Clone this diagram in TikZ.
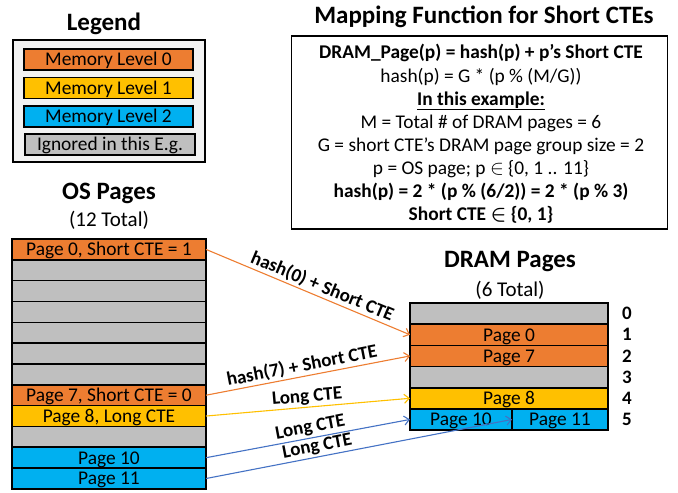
\documentclass[tikz,border=0pt]{standalone}
\usepackage{fontspec}
\setmainfont{Carlito}
\usetikzlibrary{arrows.meta}
\usetikzlibrary{positioning}

\definecolor{lvlzero}{HTML}{ED7D31}
\definecolor{lvlone}{HTML}{FFC000}
\definecolor{lvltwo}{HTML}{00B0F0}
\definecolor{ignored}{HTML}{BFBFBF}
\definecolor{legendbg}{HTML}{F2F2F2}
\definecolor{bluearrow}{HTML}{4472C4}

\tikzstyle{page} = [rectangle, draw=black, line width=1.6pt, inner sep=0pt, outer sep=0pt, text height=16pt, text depth=3.4pt, font=\fontsize{19.4}{22}\selectfont]
\tikzstyle{ospage} = [page, fill=ignored, minimum width=194pt, minimum height=20.83pt]
\tikzstyle{drampage} = [page, fill=ignored, minimum width=198pt, minimum height=21.17pt]
\tikzstyle{legenditem} = [page, minimum width=169pt, minimum height=21pt]
\tikzstyle{title} = [font=\fontsize{25}{28}\selectfont\bfseries]
\tikzstyle{subtitle} = [font=\fontsize{21}{24}\selectfont]
\tikzstyle{rownum} = [font=\fontsize{19}{22}\selectfont\bfseries, inner sep=0pt]
\tikzstyle{link} = [line width=1.1pt, -{Straight Barb[length=5pt,width=9pt]}]
\tikzstyle{linklabel} = [font=\fontsize{19}{22}\selectfont\bfseries, sloped, above, inner sep=1.5pt]

\begin{document}
\begin{tikzpicture}[x=1pt, y=-1pt]
\useasboundingbox (0,0) rectangle (678,493);

% legend
\node (legendtitle) [title] at (104,24) {Legend};
\node (legendbox) [rectangle, draw=black, line width=1.2pt, fill=legendbg, minimum width=192pt, minimum height=122pt] at (109,101) {};
\node (lvl0) [legenditem, fill=lvlzero] at (108.5,59.5) {Memory Level 0};
\node (lvl1) [legenditem, fill=lvlone, below=7.5pt of lvl0] {Memory Level 1};
\node (lvl2) [legenditem, fill=lvltwo, below=7.5pt of lvl1] {Memory Level 2};
\node (lvlx) [legenditem, fill=ignored, minimum width=170pt, below=7pt of lvl2, xshift=1.5pt] {Ignored in this E.g.};

% mapping function
\node (maptitle) [title] at (484,17) {Mapping Function for Short CTEs};
\node (mapbox) [rectangle, draw=black, line width=1.6pt, minimum width=376pt, minimum height=193pt] at (479.5,132.5) {};
\node (maptext) [align=center, font=\fontsize{19.4}{23.1}\selectfont] at (481,134) {
  \textbf{DRAM\_Page(p) = hash(p) + p’s Short CTE}\\
  hash(p) = G * (p \% (M/G))\\
  \underline{\textbf{In this example:}}\\
  M = Total \# of DRAM pages = 6\\
  G = short CTE’s DRAM page group size = 2\\
  p = OS page; p $\in$ \{0, 1 .. 11\}\\
  \textbf{hash(p) = 2 * (p \% (6/2)) = 2 * (p \% 3)}\\
  \textbf{Short CTE {\boldmath$\in$} \{0, 1\}}};

% OS pages
\node (ostitle) [title] at (109,193) {OS Pages};
\node (ostotal) [subtitle] at (109,220) {(12 Total)};
\node (os0) [ospage, fill=lvlzero] at (109,249.4) {Page 0, Short CTE = 1};
\node (os1) [ospage, below=0pt of os0] {};
\node (os2) [ospage, below=0pt of os1] {};
\node (os3) [ospage, below=0pt of os2] {};
\node (os4) [ospage, below=0pt of os3] {};
\node (os5) [ospage, below=0pt of os4] {};
\node (os6) [ospage, below=0pt of os5] {};
\node (os7) [ospage, fill=lvlzero, below=0pt of os6] {Page 7, Short CTE = 0};
\node (os8) [ospage, fill=lvlone, below=0pt of os7] {Page 8, Long CTE};
\node (os9) [ospage, below=0pt of os8] {};
\node (os10) [ospage, fill=lvltwo, below=0pt of os9] {Page 10};
\node (os11) [ospage, fill=lvltwo, below=0pt of os10] {Page 11};

% DRAM pages
\node (dramtitle) [title] at (510,262) {DRAM Pages};
\node (dramtotal) [subtitle] at (510,290) {(6 Total)};
\node (dram0) [drampage] at (509,313.6) {};
\node (dram1) [drampage, fill=lvlzero, below=0pt of dram0] {Page 0};
\node (dram2) [drampage, fill=lvlzero, below=0pt of dram1] {Page 7};
\node (dram3) [drampage, below=0pt of dram2] {};
\node (dram4) [drampage, fill=lvlone, below=0pt of dram3] {Page 8};
\node (dram10) [drampage, fill=lvltwo, minimum width=102pt, anchor=north west] at (dram4.south west) {Page 10};
\node (dram11) [drampage, fill=lvltwo, minimum width=96pt, right=0pt of dram10] {Page 11};

\node (num0) [rownum, right=14pt of dram0] {0};
\node (num1) [rownum, right=14pt of dram1] {1};
\node (num2) [rownum, right=14pt of dram2] {2};
\node (num3) [rownum, right=14pt of dram3] {3};
\node (num4) [rownum, right=14pt of dram4] {4};
\node (num5) [rownum, right=14pt of dram11] {5};

% mappings
\draw [link, lvlzero] (os0.east) -- node [linklabel, text=black, pos=0.55] {hash(0) + Short CTE} (dram1.west);
\draw [link, lvlzero] (os7.east) -- node [linklabel, text=black, pos=0.48] {hash(7) + Short CTE} (dram2.west);
\draw [link, lvlone] (os8.east) -- node [linklabel, text=black, pos=0.5] {Long CTE} (dram4.west);
\draw [link, bluearrow] (os10.east) -- node [linklabel, text=black, pos=0.52] {Long CTE} (dram10.west);
\draw [link, bluearrow] (os11.east) -- node [linklabel, text=black, pos=0.37] {Long CTE} (dram11.west);
\end{tikzpicture}
\end{document}
